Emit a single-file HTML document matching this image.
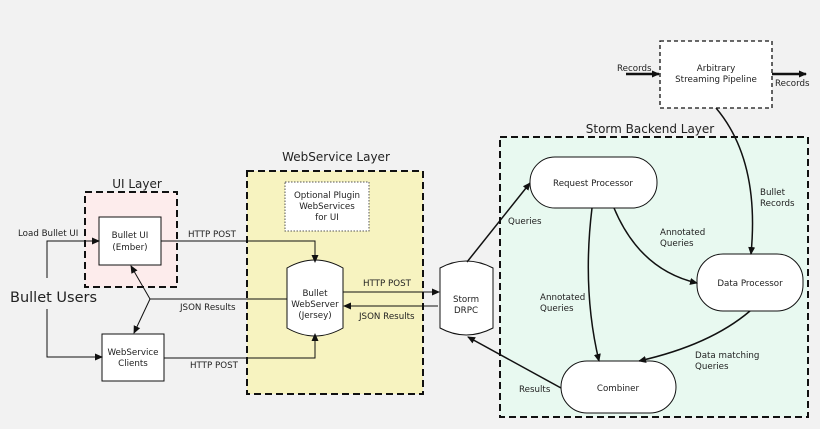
<!DOCTYPE html>
<html><head><style>body{margin:0;background:#f2f2f2}svg{display:block}text{font-family:"DejaVu Sans","Liberation Sans",sans-serif;fill:#222}</style></head>
<body>
<svg width="820" height="429" viewBox="0 0 820 429" xmlns="http://www.w3.org/2000/svg">
<defs>
<marker id="a" markerWidth="8" markerHeight="8" refX="7" refY="4" orient="auto" markerUnits="userSpaceOnUse"><path d="M0,0.5 L8,4 L0,7.5 z" fill="#111"/></marker>
</defs>
<rect width="820" height="429" fill="#f2f2f2"/>
<rect x="85" y="192" width="92" height="95" fill="#fdecec" stroke="#111" stroke-width="2" stroke-dasharray="7,4"/>
<text x="137" y="188" font-size="12" text-anchor="middle">UI Layer</text>
<rect x="247" y="171" width="176" height="223" fill="#f7f3c0" stroke="#111" stroke-width="2" stroke-dasharray="7,4"/>
<text x="336" y="161" font-size="12" text-anchor="middle">WebService Layer</text>
<rect x="500" y="137" width="308" height="280" fill="#e8f9f0" stroke="#111" stroke-width="2" stroke-dasharray="7,4"/>
<text x="650" y="133" font-size="12" text-anchor="middle">Storm Backend Layer</text>
<rect x="285" y="182" width="84" height="49" fill="#fff" stroke="#555" stroke-dasharray="1.5,1.5"/>
<g font-size="8.7" text-anchor="middle">
<text x="327" y="198">Optional Plugin</text><text x="327" y="209">WebServices</text><text x="327" y="220">for UI</text>
</g>
<rect x="660" y="41" width="112" height="67" fill="#fff" stroke="#111" stroke-width="1.3" stroke-dasharray="4,3"/>
<g font-size="8.7" text-anchor="middle"><text x="716" y="71">Arbitrary</text><text x="716" y="82">Streaming Pipeline</text></g>
<rect x="99" y="217" width="62" height="48" fill="#fff" stroke="#111"/>
<g font-size="8.7" text-anchor="middle"><text x="130" y="238">Bullet UI</text><text x="130" y="250">(Ember)</text></g>
<rect x="102" y="334" width="62" height="47" fill="#fff" stroke="#111"/>
<g font-size="8.7" text-anchor="middle"><text x="133" y="355">WebService</text><text x="133" y="366">Clients</text></g>
<path d="M287,268 Q315,252 343,268 L343,328 Q315,344 287,328 Z" fill="#fff" stroke="#111"/>
<g font-size="8.7" text-anchor="middle"><text x="315" y="296">Bullet</text><text x="315" y="307">WebServer</text><text x="315" y="318">(Jersey)</text></g>
<path d="M440,268 Q466,254 493,268 L493,328 Q466,342 440,328 Z" fill="#fff" stroke="#111"/>
<g font-size="8.7" text-anchor="middle"><text x="466" y="302">Storm</text><text x="466" y="313">DRPC</text></g>
<rect x="530" y="157" width="127" height="51" rx="25" fill="#fff" stroke="#111"/>
<text x="593" y="186" font-size="8.7" text-anchor="middle">Request Processor</text>
<rect x="697" y="254" width="106" height="57" rx="26" fill="#fff" stroke="#111"/>
<text x="750" y="286" font-size="8.7" text-anchor="middle">Data Processor</text>
<rect x="561" y="361" width="115" height="52" rx="26" fill="#fff" stroke="#111"/>
<text x="618" y="391" font-size="8.7" text-anchor="middle">Combiner</text>
<text x="10" y="302" font-size="14.5">Bullet Users</text>
<g font-size="8.7">
<text x="18" y="236">Load Bullet UI</text>
<text x="188" y="237">HTTP POST</text>
<text x="180" y="310">JSON Results</text>
<text x="190" y="368">HTTP POST</text>
<text x="363" y="286">HTTP POST</text>
<text x="359" y="319">JSON Results</text>
<text x="508" y="224">Queries</text>
<text x="540" y="300">Annotated</text><text x="540" y="311">Queries</text>
<text x="660" y="235">Annotated</text><text x="660" y="246">Queries</text>
<text x="760" y="195">Bullet</text><text x="760" y="206">Records</text>
<text x="695" y="358">Data matching</text><text x="695" y="369">Queries</text>
<text x="519" y="392">Results</text>
<text x="617" y="71">Records</text>
<text x="775" y="86">Records</text>
</g>
<g fill="none" stroke="#111" stroke-width="1">
<path d="M47,278 L47,241 L99,241" marker-end="url(#a)"/>
<path d="M47,309 L47,357 L102,357" marker-end="url(#a)"/>
<path d="M161,241 L315,241 L315,262" marker-end="url(#a)"/>
<path d="M164,358 L315,358 L315,334" marker-end="url(#a)"/>
<path d="M287,299 L150,299"/>
<path d="M150,299 L131,266" marker-end="url(#a)"/>
<path d="M150,299 L134,333" marker-end="url(#a)"/>
<path d="M343,292 L439,292" marker-end="url(#a)"/>
<path d="M438,306 L344,306" marker-end="url(#a)"/>
</g>
<g fill="none" stroke="#111" stroke-width="1.5">
<path d="M467,262 L530,183" marker-end="url(#a)"/>
<path d="M592,208 Q582,290 599,361" marker-end="url(#a)"/>
<path d="M614,208 Q640,270 697,283" marker-end="url(#a)"/>
<path d="M716,108 Q760,160 751,254" marker-end="url(#a)"/>
<path d="M750,311 Q710,345 639,361" marker-end="url(#a)"/>
<path d="M561,388 L468,337" marker-end="url(#a)"/>
</g>
<g fill="none" stroke="#111" stroke-width="2.5">
<path d="M626,74 L659,74" marker-end="url(#a)"/>
<path d="M772,74 L806,74" marker-end="url(#a)"/>
</g>
</svg>
</body></html>
